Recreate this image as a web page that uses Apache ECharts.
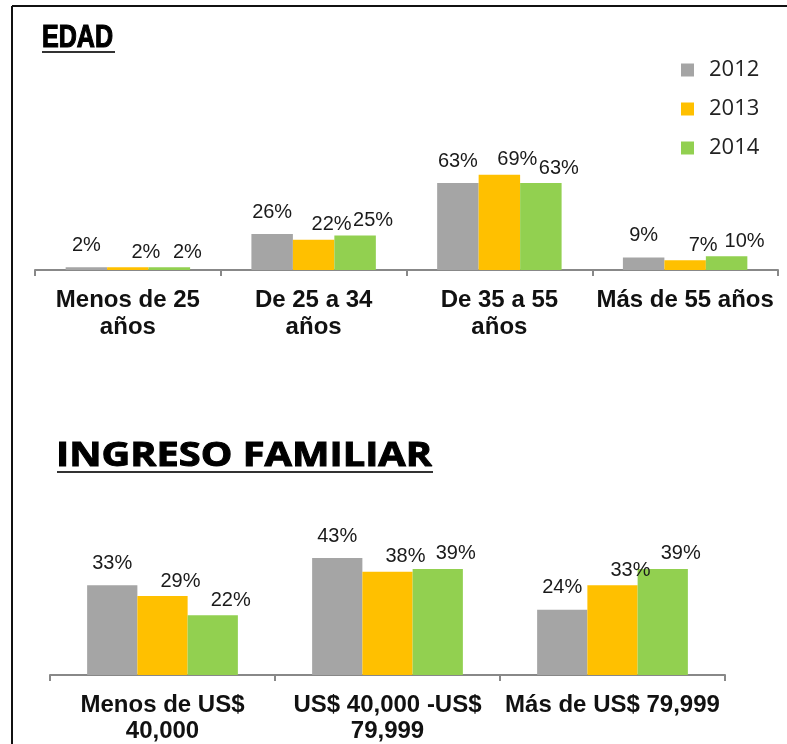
<!DOCTYPE html>
<html>
<head>
<meta charset="utf-8">
<title>Edad e ingreso familiar</title>
<script src="https://cdn.jsdelivr.net/npm/echarts@6/dist/echarts.min.js"></script>
<style>
  html, body { margin: 0; padding: 0; background: #fff; }
  #chart { width: 787px; height: 744px; }
</style>
</head>
<body>
<div id="chart"></div>
<script>
// datos
const years = ['2012', '2013', '2014'];

const edadCategories = ['Menos de 25\naños', 'De 25 a 34\naños', 'De 35 a 55\naños', 'Más de 55 años'];
const edad2012 = [2, 26, 63, 9];
const edad2013 = [2, 22, 69, 7];
const edad2014 = [2, 25, 63, 10];

const ingresoCategories = ['Menos de US$\n40,000', 'US$ 40,000 -US$\n79,999', 'Más de US$ 79,999'];
const ingreso2012 = [33, 43, 24];
const ingreso2013 = [29, 38, 33];
const ingreso2014 = [22, 39, 39];

const colors = ['#a5a5a5', '#ffc000', '#92d050'];

// escala horizontal de los titulos para que ocupen el ancho del original
function fitScale(text, font, width) {
  const ctx = document.createElement('canvas').getContext('2d');
  ctx.font = font;
  return width / ctx.measureText(text).width;
}

function valueLabel(i) {
  return {
    show: true,
    position: 'top',
    distance: i === 0 ? 12 : 5,
    offset: i === 0 ? [0, 0] : [18, 0],
    formatter: '{c}%',
    fontSize: 20,
    fontFamily: 'Liberation Sans, Arial, sans-serif',
    color: '#1a1a1a'
  };
}

function barSeries(i, data, axisIndex) {
  return {
    name: years[i],
    type: 'bar',
    xAxisIndex: axisIndex,
    yAxisIndex: axisIndex,
    data: data,
    barGap: '0%',
    barCategoryGap: '33%',
    itemStyle: { color: colors[i] },
    label: valueLabel(i),
    silent: true,
    animation: false
  };
}

function catAxis(gridIndex, data, lineHeight) {
  return {
    type: 'category',
    gridIndex: gridIndex,
    data: data,
    axisLine: { lineStyle: { color: '#888', width: 2 } },
    axisTick: { show: true, length: 6, lineStyle: { color: '#888', width: 2 } },
    axisLabel: {
      interval: 0,
      margin: 17,
      fontSize: 24,
      fontWeight: 'bold',
      fontFamily: 'Liberation Sans, Arial, sans-serif',
      color: '#111',
      lineHeight: lineHeight
    }
  };
}

const edadFont = 'bold 32px "Liberation Sans"';
const ingresoFont = 'bold 34px "Open Sans"';

const chart = echarts.init(document.getElementById('chart'));
chart.setOption({
  backgroundColor: '#fff',
  animation: false,
  legend: {
    data: years,
    orient: 'vertical',
    left: 681,
    top: 59,
    padding: 0,
    icon: 'rect',
    itemWidth: 13,
    itemHeight: 13,
    itemGap: 17,
    selectedMode: false,
    textStyle: {
      fontSize: 22,
      fontFamily: 'Open Sans, sans-serif',
      color: '#222',
      lineHeight: 22,
      padding: [0, 0, 0, 10]
    }
  },
  grid: [
    { left: 35, right: 9, top: 132, height: 138 },
    { left: 50, right: 62, top: 539, height: 139 }
  ],
  xAxis: [
    catAxis(0, edadCategories, 27),
    catAxis(1, ingresoCategories, 26)
  ],
  yAxis: [
    { type: 'value', gridIndex: 0, min: 0, max: 100, show: false },
    { type: 'value', gridIndex: 1, min: 0, max: 50, show: false }
  ],
  series: [
    barSeries(0, edad2012, 0),
    barSeries(1, edad2013, 0),
    barSeries(2, edad2014, 0),
    barSeries(0, ingreso2012, 1),
    barSeries(1, ingreso2013, 1),
    barSeries(2, ingreso2014, 1)
  ],
  graphic: [
    // marco del documento
    { type: 'line', shape: { x1: 12, y1: 6, x2: 787, y2: 6 }, style: { stroke: '#111', lineWidth: 2 } },
    { type: 'line', shape: { x1: 12, y1: 6, x2: 12, y2: 744 }, style: { stroke: '#111', lineWidth: 2 } },
    // titulos subrayados
    {
      type: 'text', x: 42, y: 38,
      scaleX: fitScale('EDAD', edadFont, 71),
      style: { text: 'EDAD', font: edadFont, fill: '#000', stroke: '#000', lineWidth: 1.2, align: 'left', verticalAlign: 'middle' }
    },
    { type: 'line', shape: { x1: 42, y1: 52, x2: 115, y2: 52 }, style: { stroke: '#333', lineWidth: 2 } },
    {
      type: 'text', x: 56, y: 456,
      scaleX: fitScale('INGRESO FAMILIAR', ingresoFont, 376),
      style: { text: 'INGRESO FAMILIAR', font: ingresoFont, fill: '#000', stroke: '#000', lineWidth: 1, align: 'left', verticalAlign: 'middle' }
    },
    { type: 'line', shape: { x1: 57, y1: 472, x2: 433, y2: 472 }, style: { stroke: '#333', lineWidth: 2 } }
  ]
});
</script>
</body>
</html>
